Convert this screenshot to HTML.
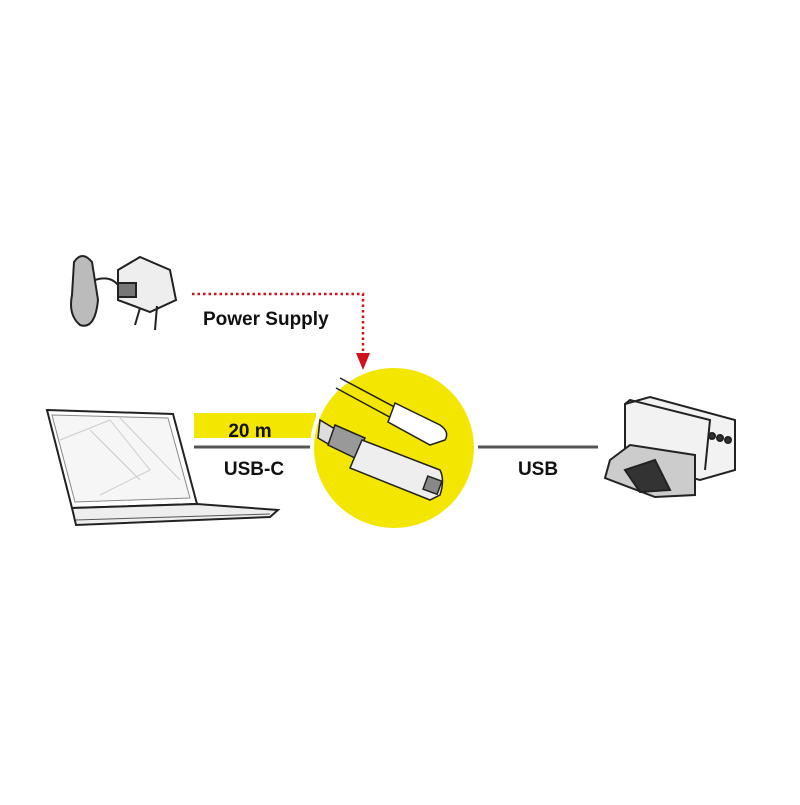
<!DOCTYPE html>
<html><head><meta charset="utf-8"><style>
html,body{margin:0;padding:0;background:#fff;}
body{width:800px;height:800px;position:relative;overflow:hidden;font-family:"Liberation Sans",sans-serif;}
</style></head><body>
<svg width="800" height="800" viewBox="0 0 800 800" xmlns="http://www.w3.org/2000/svg">
<rect width="800" height="800" fill="#fff"/>
<!-- yellow bar -->
<rect x="194" y="413" width="122" height="25" fill="#f3e600"/>
<!-- main line -->
<line x1="194" y1="447" x2="598" y2="447" stroke="#555" stroke-width="3"/>
<!-- circle -->
<circle cx="394" cy="448" r="84" fill="#fff"/>
<circle cx="394" cy="448" r="80" fill="#f3e600"/>
<!-- cables in circle -->
<g stroke="#222" stroke-width="1.5" fill="#fff">
<path d="M340 378 L400 410 L395 420 L336 388" fill="none"/>
<path d="M395 403 L440 425 Q450 432 445 440 L430 445 L388 422 Z"/>
<path d="M320 420 L340 432 L330 445 L318 438 Z" fill="#ddd"/>
<path d="M335 425 L365 438 L355 458 L328 445 Z" fill="#999"/>
<path d="M362 440 L440 470 Q445 480 440 495 L430 500 L350 468 Z" fill="#eee"/>
<rect x="425" y="478" width="15" height="14" fill="#888" transform="rotate(20 432 485)"/>
</g>
<!-- red dotted arrow -->
<path d="M192 294 L363 294 L363 354" fill="none" stroke="#d0101a" stroke-width="2.5" stroke-dasharray="2.5 3"/>
<polygon points="356,353 370,353 363,370" fill="#d0101a"/>
<!-- text -->
<g font-family="Liberation Sans, sans-serif" font-weight="bold" fill="#111">
<text x="203" y="325" font-size="19">Power Supply</text>
<text x="250" y="437" font-size="19" text-anchor="middle">20 m</text>
<text x="254" y="475" font-size="19" text-anchor="middle">USB-C</text>
<text x="538" y="475" font-size="19" text-anchor="middle">USB</text>
</g>
<!-- laptop -->
<g stroke="#222" stroke-width="2" fill="#fff">
<polygon points="47,410 173,414 197,504 72,508"/>
<polygon points="52,415 168,418 190,498 75,502" fill="#f6f6f6" stroke="#888" stroke-width="1"/>
<polygon points="72,508 197,504 278,510 270,517 76,525" fill="#eee"/>
<line x1="76" y1="520" x2="270" y2="514" stroke="#555" stroke-width="1"/>
</g>
<g stroke="#ccc" stroke-width="1" fill="none">
<path d="M60 440 L110 420 L150 470 L100 495"/><path d="M90 430 L140 480"/><path d="M120 418 L180 480"/>
</g>
<!-- power adapter -->
<g stroke="#222" stroke-width="2" fill="#eee">
<path d="M74 262 Q82 250 92 262 L98 300 Q95 330 80 325 Q68 315 72 295 Z" fill="#bbb"/>
<path d="M95 280 Q110 275 118 285"  fill="none"/>
<polygon points="118,270 140,257 170,270 176,300 150,312 118,300"/>
<rect x="118" y="283" width="18" height="14" fill="#777"/>
<line x1="140" y1="308" x2="135" y2="325"/><line x1="157" y1="306" x2="155" y2="330"/>
</g>
<!-- printer -->
<g stroke="#222" stroke-width="2" fill="#f2f2f2">
<path d="M625 404 L650 397 L735 420 L735 470 L700 480 L625 460 Z"/>
<path d="M625 404 L630 400 L710 420 L705 470"  fill="none"/>
<polygon points="610,460 630,445 695,455 695,495 655,497 605,478" fill="#ccc"/>
<path d="M625 470 L655 460 L670 490 L640 492 Z" fill="#333"/>
<circle cx="712" cy="436" r="3" fill="#333"/><circle cx="720" cy="438" r="3" fill="#333"/><circle cx="728" cy="440" r="3" fill="#333"/>
</g>
</svg>
</body></html>
